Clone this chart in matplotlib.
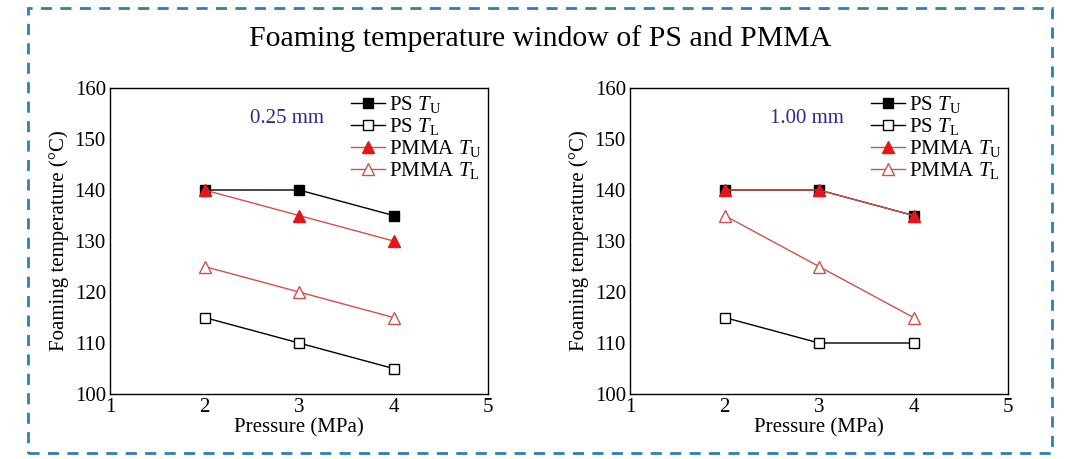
import matplotlib.pyplot as plt
from matplotlib.patches import Rectangle

plt.rcParams['font.family'] = ['Liberation Serif', 'DejaVu Serif']
plt.rcParams['mathtext.fontset'] = 'custom'
plt.rcParams['mathtext.rm'] = 'Liberation Serif'
plt.rcParams['mathtext.it'] = 'Liberation Serif:italic'

pressure = [2, 3, 4]

# 0.25 mm panel
ps_tu_025 = [140, 140, 135]
ps_tl_025 = [115, 110, 105]
pmma_tu_025 = [140, 135, 130]
pmma_tl_025 = [125, 120, 115]

# 1.00 mm panel
ps_tu_100 = [140, 140, 135]
ps_tl_100 = [115, 110, 110]
pmma_tu_100 = [140, 140, 135]
pmma_tl_100 = [135, 125, 115]

panels = [
    ("0.25 mm", ps_tu_025, ps_tl_025, pmma_tu_025, pmma_tl_025),
    ("1.00 mm", ps_tu_100, ps_tl_100, pmma_tu_100, pmma_tl_100),
]

RED = '#e3161b'
PINK = '#d0504c'

fig = plt.figure(figsize=(10.8, 4.59), dpi=100)

# dashed frame around the whole figure
frame = Rectangle((28 / 1080, 1 - 453 / 459), 1024 / 1080, 445 / 459,
                  transform=fig.transFigure, fill=False,
                  edgecolor='#2f7fb5', linestyle=(0, (4, 3)), linewidth=2.0)
fig.patches.append(frame)

fig.text(0.5, 1 - 39 / 459, 'Foaming temperature window of PS and PMMA',
         ha='center', va='center', fontsize=21.5)

lefts = [110 / 1080, 630 / 1080]
width = 378 / 1080
bottom = 1 - 394 / 459
height = 306 / 459

for (label, ps_tu, ps_tl, pm_tu, pm_tl), left in zip(panels, lefts):
    ax = fig.add_axes([left, bottom, width, height])
    ax.plot(pressure, ps_tu, color='black', lw=1.0, marker='s', ms=7,
            mfc='black', mec='black', label=r'PS $T_{\mathrm{U}}$')
    ax.plot(pressure, ps_tl, color='black', lw=1.0, marker='s', ms=7,
            mfc='white', mec='black', label=r'PS $T_{\mathrm{L}}$')
    ax.plot(pressure, pm_tu, color=PINK, lw=1.0, marker='^', ms=8,
            mfc=RED, mec=RED, label=r'PMMA $T_{\mathrm{U}}$')
    ax.plot(pressure, pm_tl, color=PINK, lw=1.0, marker='^', ms=8,
            mfc='white', mec=PINK, label=r'PMMA $T_{\mathrm{L}}$')

    ax.set_xlim(1, 5)
    ax.set_ylim(100, 160)
    ax.set_xticks([1, 2, 3, 4, 5])
    ax.set_yticks([100, 110, 120, 130, 140, 150, 160])
    ax.tick_params(length=0, labelsize=15, pad=3)
    ax.set_xlabel('Pressure (MPa)', fontsize=15, labelpad=1)
    ax.set_ylabel('Foaming temperature (°C)', fontsize=15, labelpad=4)
    for s in ax.spines.values():
        s.set_linewidth(1.0)

    ax.text(2.87, 154, label, color='#2b2b8a', fontsize=15,
            ha='center', va='center')
    ax.legend(loc='upper right', frameon=False, fontsize=15,
              handlelength=1.6, handletextpad=0.2, labelspacing=0.05,
              borderaxespad=0.1, borderpad=0.2)

fig.savefig('out.png', dpi=100)
